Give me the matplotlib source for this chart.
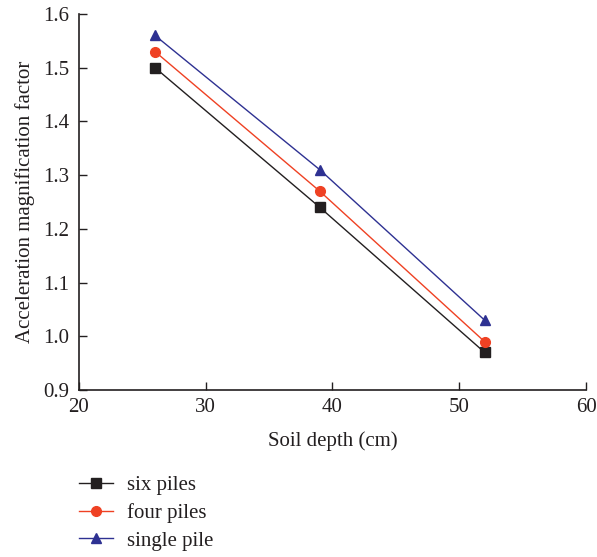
import matplotlib.pyplot as plt

plt.rcParams['font.family'] = ['Liberation Serif', 'DejaVu Serif']

# data
depth = [26, 39, 52]
six_piles = [1.50, 1.24, 0.97]
four_piles = [1.53, 1.27, 0.99]
single_pile = [1.56, 1.31, 1.03]

fig = plt.figure(figsize=(5.97, 5.57), dpi=100)
ax = fig.add_axes([0.1323, 0.2998, 0.8493, 0.6751])

ax.plot(depth, six_piles, color='#231f20', marker='s', ms=6.5, lw=1.0, label='six piles')
ax.plot(depth, four_piles, color='#ef4123', marker='o', ms=7, lw=1.0, label='four piles')
ax.plot(depth, single_pile, color='#2e3192', marker='^', ms=7.5, lw=1.0, label='single pile')

ax.set_xlim(20, 60)
ax.set_ylim(0.9, 1.6)
ax.set_xticks([20, 30, 40, 50, 60])
ax.set_yticks([0.9, 1.0, 1.1, 1.2, 1.3, 1.4, 1.5, 1.6])
ax.set_yticklabels(['0.9', '1.0', '1.1', '1.2', '1.3', '1.4', '1.5', '1.6'])
ax.tick_params(direction='in', length=6, width=1.0, labelsize=15, colors='#231f20')
ax.tick_params(axis='y', pad=7)
ax.tick_params(axis='x', pad=6)
ax.spines['top'].set_visible(False)
ax.spines['right'].set_visible(False)
for s in ['left', 'bottom']:
    ax.spines[s].set_linewidth(1.2)
    ax.spines[s].set_color('#231f20')

ax.set_xlabel('Soil depth (cm)', fontsize=15, labelpad=10, color='#231f20')
ax.set_ylabel('Acceleration magnification factor', fontsize=15, labelpad=6, color='#231f20')

fig.legend(loc='upper left', bbox_to_anchor=(0.1323, 0.146), frameon=False,
           borderpad=0, borderaxespad=0,
           fontsize=15, handlelength=1.65, handletextpad=0.65, labelspacing=0.38,
           labelcolor='#231f20')

fig.savefig('out.png', dpi=100)
